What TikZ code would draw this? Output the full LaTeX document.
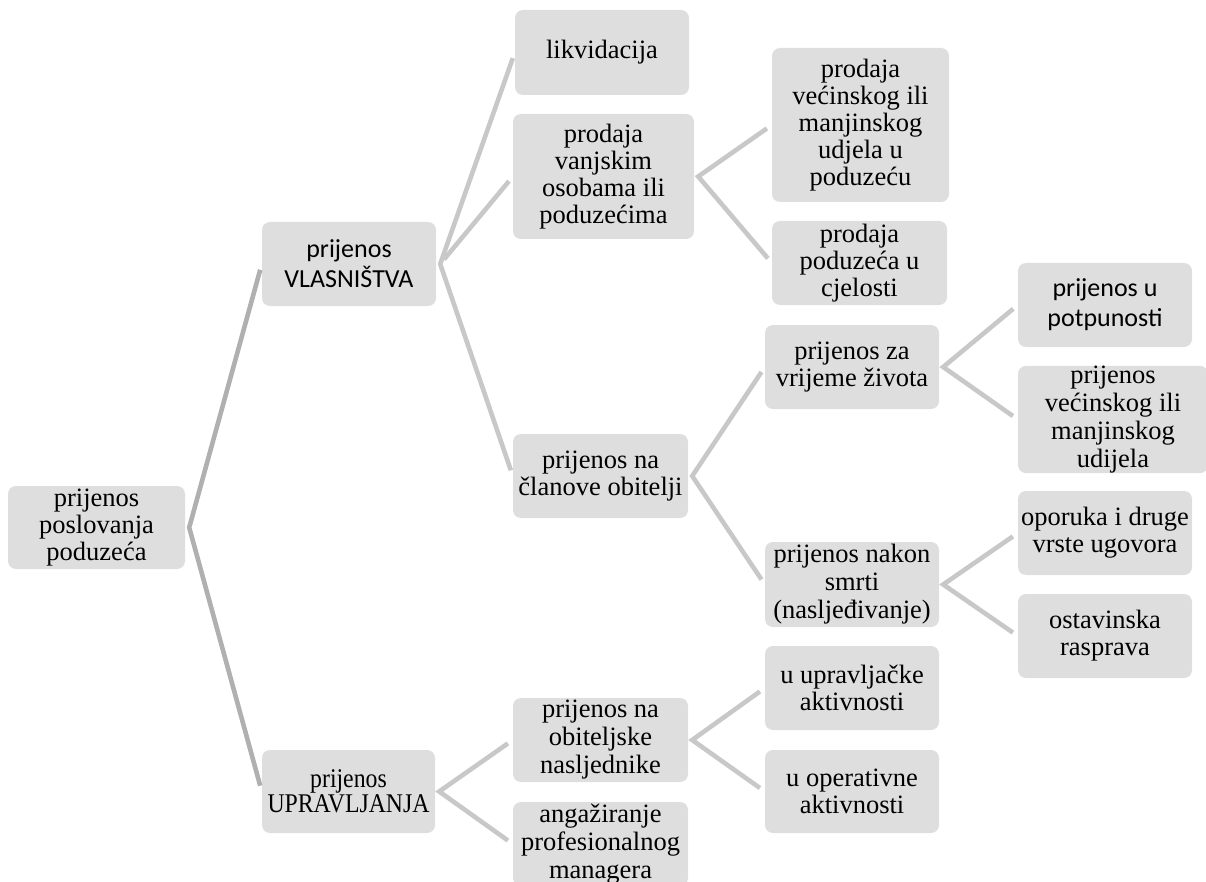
\documentclass[tikz,border=0pt]{standalone}
\usepackage{fontspec}
\setmainfont{Liberation Serif}
\newfontfamily\calibrifont{Carlito}
\newfontfamily\narrowfont[FakeStretch=0.88]{Liberation Serif}

\definecolor{boxgray}{HTML}{DEDEDE}
\definecolor{linegray}{HTML}{C8C8C8}
\definecolor{rootgray}{HTML}{B0B0B0}

\tikzset{
  box/.style={fill=boxgray, rounded corners=8pt, align=center, inner sep=0pt,
    minimum width=174pt, minimum height=84pt, font=\fontsize{26.5}{27}\selectfont},
  sansbox/.style={box, font=\calibrifont\fontsize{26}{30}\selectfont},
  link/.style={draw=linegray, line width=4.6pt, shorten <=6pt, shorten >=6pt},
  rootlink/.style={link, draw=rootgray},
}

\begin{document}
\begin{tikzpicture}[x=1pt, y=-1pt]

\def \gap {4}

\useasboundingbox (0,0) rectangle (1206,882);

% first and second level
\node [box, minimum width=177pt, minimum height=83pt] (root) at (96.5,527.5) {prijenos\\ poslovanja\\ poduzeća};
\node [sansbox] (vlas) at (349,264) {prijenos\\ VLASNIŠTVA};
\node [box, minimum width=173pt, minimum height=83pt, font=\narrowfont\fontsize{27}{25}\selectfont] (uprav) at (348.5,791.5) {prijenos\\ UPRAVLJANJA};

% third level
\node [box, minimum height=85pt] (likv) at (602,52.5) {likvidacija};
\node [box, minimum width=181pt, minimum height=125pt] (vanj) at (603.5,176.5) {prodaja\\ vanjskim\\ osobama ili\\ poduzećima};
\node [box, minimum width=175pt] (clan) at (600.5,476) {prijenos na\\ članove obitelji};
\node [box, minimum width=175pt, font=\fontsize{26.5}{28}\selectfont] (nasl) at (600.5,740) {prijenos na\\ obiteljske\\ nasljednike};
\node [box, minimum width=175pt, font=\fontsize{26.5}{28}\selectfont] (angaz) at (600.5,844) {angažiranje\\ profesionalnog\\ managera};

% fourth level
\node [box, minimum width=177pt, minimum height=154pt] (vecin) at (860.5,125) {prodaja\\ većinskog ili\\ manjinskog\\ udjela u\\ poduzeću};
\node [box, minimum width=175pt] (cjel) at (859.5,263) {prodaja\\ poduzeća u\\ cjelosti};
\node [box] (zivot) at (852,367) {prijenos za\\ vrijeme života};
\node [box, minimum height=85pt, font=\fontsize{26.5}{28}\selectfont] (smrt) at (852,584.5) {prijenos nakon\\ smrti\\ (nasljeđivanje)};
\node [box] (uprak) at (852,688) {u upravljačke\\ aktivnosti};
\node [box, minimum height=83pt] (oper) at (852,791.5) {u operativne\\ aktivnosti};

% fifth level
\node [sansbox] (potp) at (1105,305) {prijenos u\\ potpunosti};
\node [box, minimum width=190pt, minimum height=105pt, font=\fontsize{26.5}{28}\selectfont] (udij) at (1113,419.5) {prijenos\\ većinskog ili\\ manjinskog\\ udijela};
\node [box] (opor) at (1105,533) {oporuka i druge\\ vrste ugovora};
\node [box] (ostav) at (1105,636) {ostavinska\\ rasprava};

% connectors
\draw [rootlink] (vlas.west) -- ([xshift=\gap pt]root.east) -- (uprav.west);
\draw [link] (likv.west) -- ([xshift=\gap pt]vlas.east) -- (clan.west);
\draw [link] ([xshift=\gap pt]vlas.east) -- (vanj.west);
\draw [link] (nasl.west) -- ([xshift=\gap pt]uprav.east) -- (angaz.west);
\draw [link] (vecin.west) -- ([xshift=\gap pt]vanj.east) -- (cjel.west);
\draw [link] (zivot.west) -- ([xshift=\gap pt]clan.east) -- (smrt.west);
\draw [link] (uprak.west) -- ([xshift=\gap pt]nasl.east) -- (oper.west);
\draw [link] (potp.west) -- ([xshift=\gap pt]zivot.east) -- (udij.west);
\draw [link] (opor.west) -- ([xshift=\gap pt]smrt.east) -- (ostav.west);

\end{tikzpicture}
\end{document}
